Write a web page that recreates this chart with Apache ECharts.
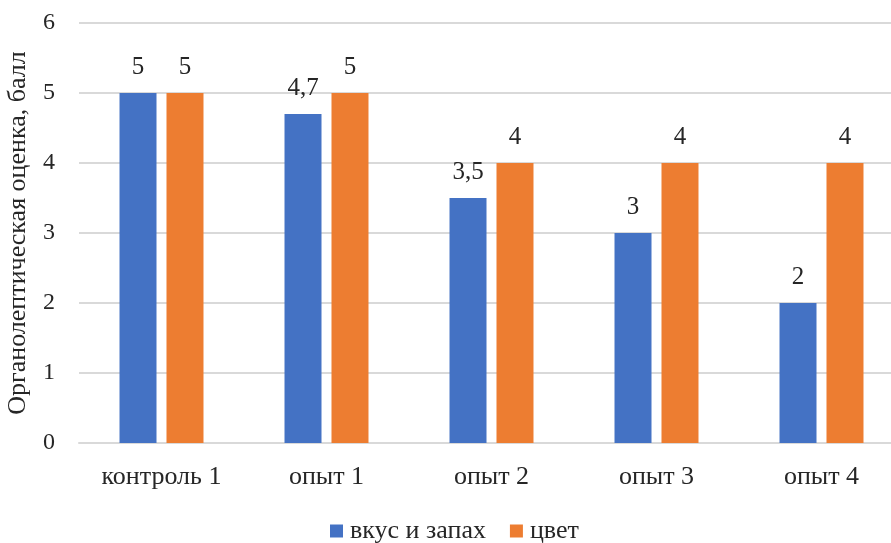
<!DOCTYPE html>
<html>
<head>
<meta charset="utf-8">
<script src="https://cdn.jsdelivr.net/npm/echarts@6/dist/echarts.min.js"></script>
<style>
  html, body { margin: 0; padding: 0; background: #fff; }
  #chart { width: 891px; height: 543px; }
</style>
</head>
<body>
<div id="chart"></div>
<script>
// Sample groups along the x axis
const categories = ['контроль 1', 'опыт 1', 'опыт 2', 'опыт 3', 'опыт 4'];
// Organoleptic scores per attribute
const tasteSmell = [5, 4.7, 3.5, 3, 2];
const colour = [5, 5, 4, 4, 4];
const seriesNames = ['вкус и запах', 'цвет'];
const yTicks = [0, 1, 2, 3, 4, 5, 6];

const FONT = '"Liberation Serif", "Times New Roman", serif';
const TEXT = '#262626';
const fmt = v => String(v).replace('.', ',');

const chart = echarts.init(document.getElementById('chart'));
const labelStyle = {
  show: true,
  position: 'top',
  distance: 13,
  fontFamily: FONT,
  fontSize: 25,
  color: TEXT,
  formatter: p => fmt(p.value)
};

chart.setOption({
  animation: false,
  textStyle: { fontFamily: FONT },
  grid: {
    left: 79, right: -13, top: 23, height: 420,
    containLabel: false,
    outerBoundsMode: 'none'
  },
  legend: {
    top: 513,
    left: 325,
    itemWidth: 13,
    itemHeight: 13,
    itemGap: 24,
    icon: 'rect',
    textStyle: { fontFamily: FONT, fontSize: 26, color: TEXT, padding: [0, 0, 0, 2] },
    data: seriesNames
  },
  xAxis: {
    type: 'category',
    data: categories,
    axisTick: { show: false },
    axisLine: { lineStyle: { color: '#d9d9d9', width: 2 } },
    axisLabel: { fontFamily: FONT, fontSize: 26, color: TEXT, margin: 21 }
  },
  yAxis: {
    type: 'value',
    min: yTicks[0],
    max: yTicks[yTicks.length - 1],
    interval: 1,
    name: 'Органолептическая оценка, балл',
    nameLocation: 'middle',
    nameGap: 48,
    nameTextStyle: { fontFamily: FONT, fontSize: 26, color: TEXT },
    axisLine: { show: false },
    axisTick: { show: false },
    splitLine: { lineStyle: { color: '#d9d9d9', width: 2 } },
    axisLabel: { fontFamily: FONT, fontSize: 24, color: TEXT, margin: 24 }
  },
  series: [
    {
      name: seriesNames[0],
      type: 'bar',
      data: tasteSmell,
      barWidth: 37,
      barGap: '27%',
      itemStyle: { color: '#4472C4' },
      label: labelStyle
    },
    {
      name: seriesNames[1],
      type: 'bar',
      data: colour,
      barWidth: 37,
      barGap: '27%',
      itemStyle: { color: '#ED7D31' },
      label: labelStyle
    }
  ]
});
</script>
</body>
</html>
